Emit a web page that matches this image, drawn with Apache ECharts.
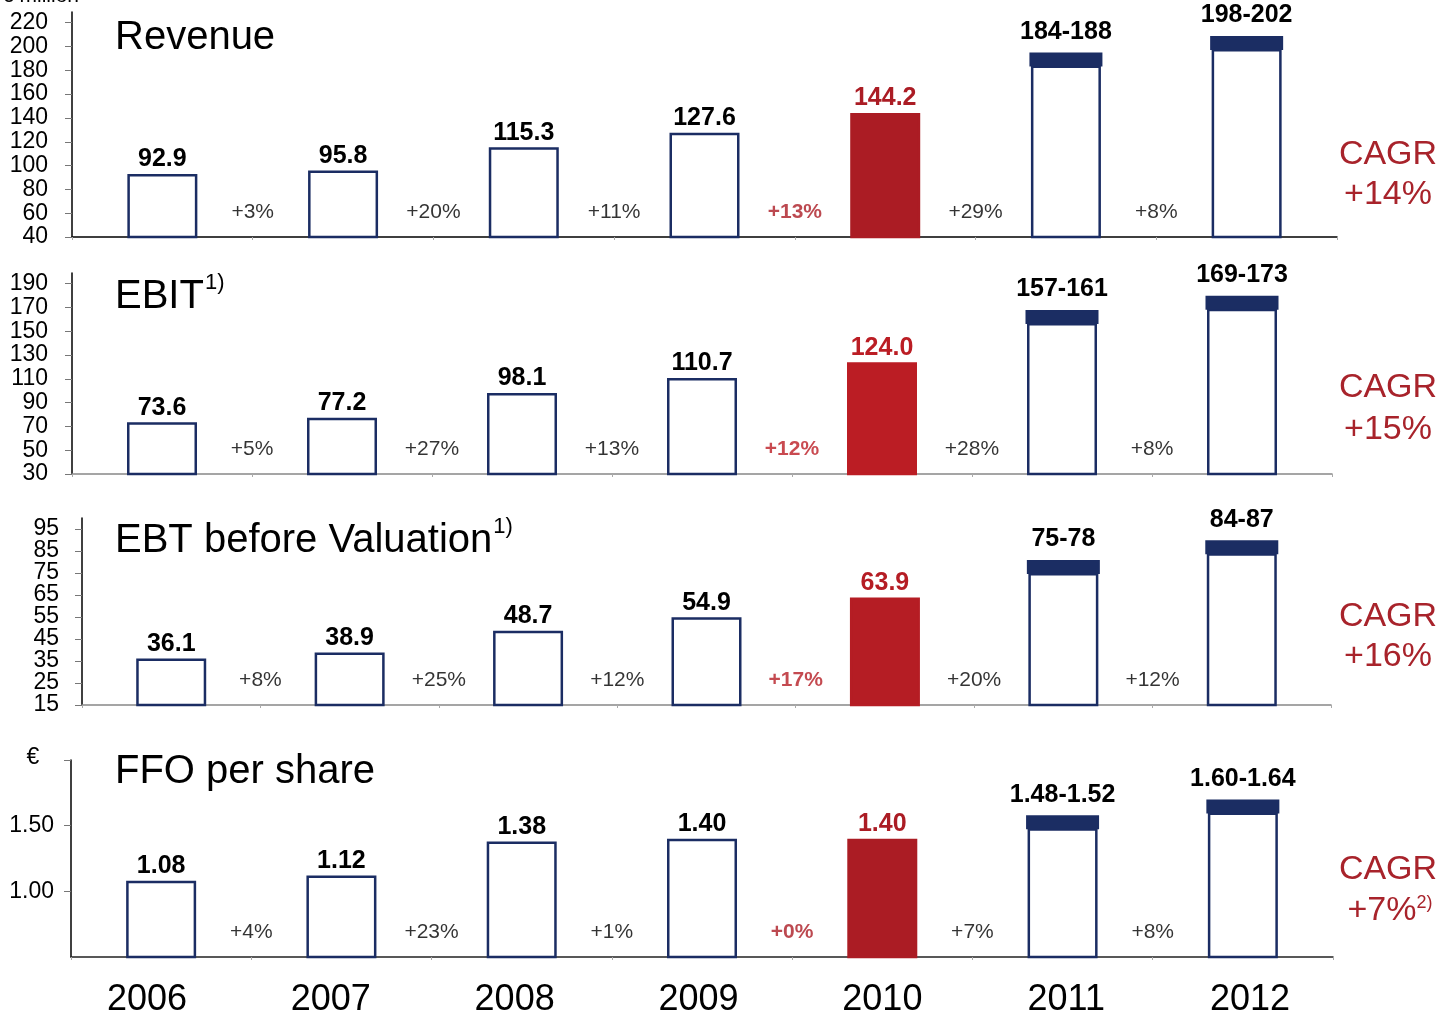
<!DOCTYPE html>
<html>
<head>
<meta charset="utf-8">
<script src="https://cdn.jsdelivr.net/npm/echarts@6/dist/echarts.min.js"></script>
<style>
html,body{margin:0;padding:0;background:#fff;}
#main{width:1441px;height:1016px;}
</style>
</head>
<body>
<div id="main"></div>
<script>
var years = ['2006', '2007', '2008', '2009', '2010', '2011', '2012'];

// revenue, EUR million
var revActual = [92.9, 95.8, 115.3, 127.6, 144.2];
var revLow = [184, 198];
var revHigh = [188, 202];
var revGrowth = [3, 20, 11, 13, 29, 8];
var revTicks = [40, 60, 80, 100, 120, 140, 160, 180, 200, 220];

// EBIT
var ebitActual = [73.6, 77.2, 98.1, 110.7, 124.0];
var ebitLow = [157, 169];
var ebitHigh = [161, 173];
var ebitGrowth = [5, 27, 13, 12, 28, 8];
var ebitTicks = [30, 50, 70, 90, 110, 130, 150, 170, 190];

// EBT before valuation
var ebtActual = [36.1, 38.9, 48.7, 54.9, 63.9];
var ebtLow = [75, 84];
var ebtHigh = [78, 87];
var ebtGrowth = [8, 25, 12, 17, 20, 12];
var ebtTicks = [15, 25, 35, 45, 55, 65, 75, 85, 95];

// FFO per share, EUR
var ffoActual = [1.08, 1.12, 1.38, 1.40, 1.40];
var ffoLow = [1.48, 1.60];
var ffoHigh = [1.52, 1.64];
var ffoGrowth = [4, 23, 1, 0, 7, 8];
var ffoTicks = [1.00, 1.50, 2.00];
var ffoLabels = [1.00, 1.50];

var cagrValues = ['+14%', '+15%', '+16%', '+7%'];

var panels = [
    {title: 'Revenue', sup: '', actual: revActual, low: revLow, high: revHigh, growth: revGrowth, ticks: revTicks, labels: revTicks, min: 40, max: 229, digits: 1, rangeDigits: 0, labelDigits: 0},
    {title: 'EBIT', sup: '1)', actual: ebitActual, low: ebitLow, high: ebitHigh, growth: ebitGrowth, ticks: ebitTicks, labels: ebitTicks, min: 30, max: 199, digits: 1, rangeDigits: 0, labelDigits: 0},
    {title: 'EBT before Valuation', sup: '1)', actual: ebtActual, low: ebtLow, high: ebtHigh, growth: ebtGrowth, ticks: ebtTicks, labels: ebtTicks, min: 15, max: 100, digits: 1, rangeDigits: 0, labelDigits: 0},
    {title: 'FFO per share', sup: '', actual: ffoActual, low: ffoLow, high: ffoHigh, growth: ffoGrowth, ticks: ffoTicks, labels: ffoLabels, min: 0.5, max: 2.0, digits: 2, rangeDigits: 2, labelDigits: 2}
];

// pixel layout of each panel
var layout = [
    {left: 72, right: 1337, top: 12, bottom: 237, axisColor: '#000', red: '#ab1c24', titleY: 38, cagrY: 155, cagrGap: 40, labelMargin: 24},
    {left: 72, right: 1332, top: 273, bottom: 474, axisColor: '#888', red: '#bb1d24', titleY: 297, cagrY: 388, cagrGap: 42, labelMargin: 24},
    {left: 82, right: 1331, top: 518, bottom: 705, axisColor: '#888', red: '#b51d24', titleY: 541, cagrY: 617, cagrGap: 40, labelMargin: 23},
    {left: 71, right: 1333, top: 760, bottom: 957, axisColor: '#222', red: '#ab1c24', titleY: 772, cagrY: 870, cagrGap: 41, labelMargin: 17}
];

var FONT = '"Liberation Sans", Arial, sans-serif';
var NAVY = '#1b2d63';
var CAGR_RED = '#a8232b';

var option = {
    animation: false,
    backgroundColor: '#fff',
    grid: [],
    xAxis: [],
    yAxis: [],
    series: [],
    graphic: []
};

panels.forEach(function (p, k) {
    var L = layout[k];
    option.grid.push({left: L.left, top: L.top, width: L.right - L.left, height: L.bottom - L.top});

    option.xAxis.push({
        type: 'category', gridIndex: k, data: years,
        axisLine: {onZero: false, lineStyle: {color: L.axisColor, width: 1.5}},
        axisTick: {show: true, length: 3, lineStyle: {color: '#aaa'}},
        axisLabel: {show: false}
    });
    option.xAxis.push({type: 'value', gridIndex: k, min: -0.5, max: 6.5, show: false});

    // labels are split over two stacked axes so the tightly packed ones are not dropped
    var labelStyle = {
        margin: L.labelMargin, color: '#000', fontSize: 23, fontFamily: FONT,
        showMinLabel: true, showMaxLabel: true, hideOverlap: false,
        formatter: function (v) { return Number(v).toFixed(p.labelDigits); }
    };
    option.yAxis.push({
        type: 'value', gridIndex: k, min: p.min, max: p.max,
        splitLine: {show: false},
        axisLine: {show: true, onZero: false, lineStyle: {color: '#000', width: 1.5}},
        axisTick: {show: true, length: 7, customValues: p.ticks, lineStyle: {color: '#777'}},
        axisLabel: Object.assign({customValues: p.labels.filter(function (v, i) { return i % 2 === 0; })}, labelStyle)
    });
    option.yAxis.push({
        type: 'value', gridIndex: k, min: p.min, max: p.max, position: 'left',
        splitLine: {show: false}, axisLine: {show: false, onZero: false}, axisTick: {show: false},
        axisLabel: Object.assign({customValues: p.labels.filter(function (v, i) { return i % 2 === 1; })}, labelStyle)
    });

    var barData = [];
    p.actual.forEach(function (v, i) {
        var item = {value: v};
        if (i === 4) {
            item.itemStyle = {color: L.red, borderColor: L.red};
            item.label = {color: L.red};
        }
        barData.push(item);
    });
    p.low.forEach(function (v) {
        barData.push({value: v, label: {distance: 21}});
    });

    option.series.push({
        type: 'bar', xAxisIndex: 2 * k, yAxisIndex: 2 * k,
        barWidth: 70, data: barData, z: 2,
        itemStyle: {color: '#fff', borderColor: NAVY, borderWidth: 2.5},
        label: {
            show: true, position: 'top', distance: 2, color: '#000',
            fontSize: 25, fontWeight: 'bold', fontFamily: FONT,
            formatter: function (params) {
                var i = params.dataIndex;
                if (i < p.actual.length) return p.actual[i].toFixed(p.digits);
                var j = i - p.actual.length;
                return p.low[j].toFixed(p.rangeDigits) + '-' + p.high[j].toFixed(p.rangeDigits);
            }
        }
    });

    // dark cap sitting on top of the forecast bars
    var capData = p.actual.map(function () { return '-'; }).concat(p.low);
    option.series.push({
        type: 'pictorialBar', xAxisIndex: 2 * k, yAxisIndex: 2 * k,
        barWidth: 70, data: capData, z: 3,
        symbol: 'rect', symbolPosition: 'end', symbolSize: [73, 14], symbolOffset: [0, -13],
        itemStyle: {color: NAVY}
    });

    // growth rates between the bars
    option.series.push({
        type: 'scatter', xAxisIndex: 2 * k + 1, yAxisIndex: 2 * k,
        symbolSize: 0, silent: true, z: 4,
        data: p.growth.map(function (g, i) {
            var d = {value: [i + 0.5, p.min]};
            if (i === 3) d.label = {color: L.red, fontWeight: 'bold'};
            return d;
        }),
        label: {
            show: true, position: 'inside', offset: [0, -25],
            fontSize: 21, color: '#000', fontFamily: FONT,
            formatter: function (params) { return '+' + p.growth[params.dataIndex] + '%'; }
        }
    });

    // panel title
    option.graphic.push({
        type: 'text', x: 115, y: L.titleY,
        style: {
            text: '{m|' + p.title + '}' + (p.sup ? '{s|' + p.sup + '}' : ''),
            verticalAlign: 'middle',
            rich: {
                m: {fontSize: 40, fontFamily: FONT, fill: '#000'},
                s: {fontSize: 22, fontFamily: FONT, fill: '#000', padding: [0, 0, 28, 1]}
            }
        }
    });

    // CAGR
    var cagrText = cagrValues[k];
    var cagrRich = k === 3 ? '{c|' + cagrText + '}{s|2)}' : '{c|' + cagrText + '}';
    option.graphic.push({
        type: 'text', x: 1388, y: L.cagrY,
        style: {text: 'CAGR', fontSize: 34, fontFamily: FONT, fill: CAGR_RED, align: 'center', verticalAlign: 'middle'}
    });
    option.graphic.push({
        type: 'text', x: k === 3 ? 1390 : 1388, y: L.cagrY + L.cagrGap,
        style: {
            text: cagrRich, align: 'center', verticalAlign: 'middle',
            rich: {
                c: {fontSize: 34, fontFamily: FONT, fill: CAGR_RED},
                s: {fontSize: 18, fontFamily: FONT, fill: CAGR_RED, padding: [0, 0, 16, 0]}
            }
        }
    });
});

// year labels under the last panel
option.grid.push({left: 55, width: 1287, top: 956, height: 1});
option.xAxis.push({
    type: 'category', gridIndex: 4, data: years,
    axisLine: {show: false}, axisTick: {show: false},
    axisLabel: {margin: 26, fontSize: 36, color: '#000', fontFamily: FONT}
});
option.yAxis.push({type: 'value', gridIndex: 4, show: false});

option.graphic.push({
    type: 'text', x: 2, y: -14,
    style: {text: '€ million', fontSize: 21, fontFamily: FONT, fill: '#000'}
});
option.graphic.push({
    type: 'text', x: 33, y: 758,
    style: {text: '€', fontSize: 23, fontFamily: FONT, fill: '#000', align: 'center', verticalAlign: 'middle'}
});

var chart = echarts.init(document.getElementById('main'));
chart.setOption(option);
</script>
</body>
</html>
